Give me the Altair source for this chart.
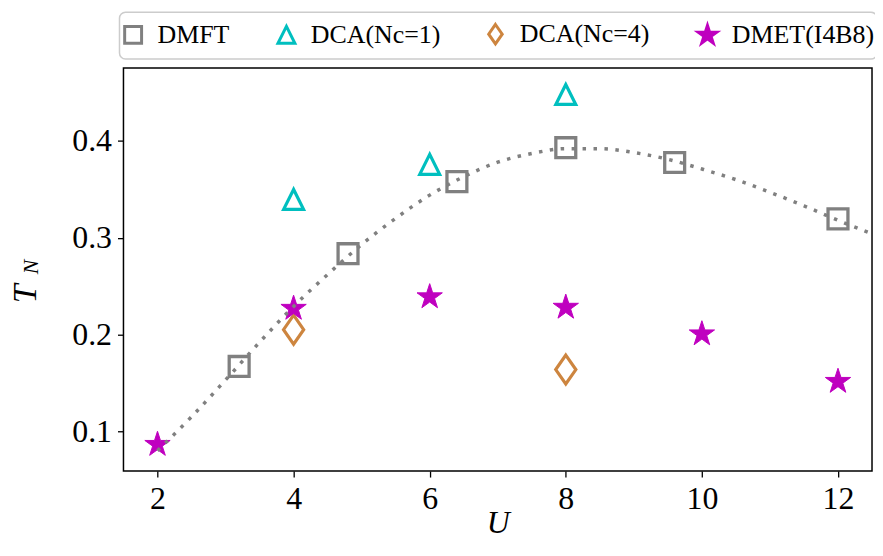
import math
import altair as alt
import pandas as pd

# ---------------- data ----------------
series_names = ["DMFT", "DCA(Nc=1)", "DCA(Nc=4)", "DMET(I4B8)"]

dmft_u = [3.2, 4.8, 6.4, 8.0, 9.6, 12.0]
dmft_t = [0.167, 0.2835, 0.358, 0.393, 0.3777, 0.3195]

dca1_u = [4, 6, 8]
dca1_t = [0.3396, 0.3758, 0.448]

dca4_u = [4, 8]
dca4_t = [0.205, 0.1638]

dmet_u = [2, 4, 6, 8, 10, 12]
dmet_t = [0.0863, 0.2269, 0.2388, 0.228, 0.2005, 0.1514]

fit_u = [2.0, 2.5, 3.0, 3.5, 4.0, 4.5, 5.0, 5.5, 6.0, 6.5, 7.0, 7.5,
         8.0, 8.5, 9.0, 9.5, 10.0, 10.5, 11.0, 11.5, 12.0, 12.5]
fit_t = [0.080, 0.115, 0.153, 0.192, 0.229, 0.262, 0.293, 0.320, 0.344, 0.363,
         0.378, 0.387, 0.392, 0.392, 0.388, 0.381, 0.371, 0.360, 0.347, 0.333,
         0.318, 0.304]

x_ticks = [2, 4, 6, 8, 10, 12]
y_ticks = [0.1, 0.2, 0.3, 0.4]

# ---------------- tables ----------------
rows = []
for name, us, ts in zip(series_names, [dmft_u, dca1_u, dca4_u, dmet_u],
                        [dmft_t, dca1_t, dca4_t, dmet_t]):
    for u, t in zip(us, ts):
        rows.append({"series": name, "U": u, "T": t})
df = pd.DataFrame(rows)
fit_df = pd.DataFrame({"U": fit_u, "T": fit_t})

# ---------------- styles ----------------
FONT = "Liberation Serif"
colors = ["#808080", "#00BFBF", "#CD853F", "#BF00BF"]
fills = ["transparent", "transparent", "transparent", "#BF00BF"]


def star_path(r_out=1.15, ratio=0.382):
    pts = []
    for k in range(10):
        r = r_out if k % 2 == 0 else r_out * ratio
        a = -math.pi / 2 + k * math.pi / 5
        pts.append(f"{r * math.cos(a):.3f},{r * math.sin(a):.3f}")
    return "M" + "L".join(pts) + "Z"


shapes = ["square", "M0,-1L-1,1L1,1Z", "M0,-1.15L0.8,0L0,1.15L-0.8,0Z", star_path()]
mark_sizes = [400, 400, 640, 540]
mark_strokes = [3.3, 3.2, 3.2, 1.0]

legend = alt.Legend(
    orient="none", legendX=-3.3, legendY=-47, direction="horizontal", columns=4,
    title=None, labelFont=FONT, labelFontSize=26, labelColor="black",
    symbolSize=289, symbolStrokeWidth=3, labelOffset=11.5, columnPadding=42,
    padding=0, labelLimit=0,
)

x_enc = alt.X("U:Q", scale=alt.Scale(domain=[1.5, 12.5], nice=False, zero=False),
              axis=alt.Axis(values=x_ticks, title="U", format="d", labelPadding=7,
                            titlePadding=-7))
y_enc = alt.Y("T:Q", scale=alt.Scale(domain=[0.0589, 0.4754], nice=False, zero=False),
              axis=alt.Axis(values=y_ticks, title=None, format=".1f", labelPadding=6))
shape_enc = alt.Shape("series:N", scale=alt.Scale(domain=series_names, range=shapes), legend=legend)
stroke_enc = alt.Stroke("series:N", scale=alt.Scale(domain=series_names, range=colors), legend=legend)
fill_enc = alt.Fill("series:N", scale=alt.Scale(domain=series_names, range=fills), legend=legend)

base = alt.Chart(df)
point_layers = []
for name, sz, sw in zip(series_names, mark_sizes, mark_strokes):
    point_layers.append(
        base.transform_filter(alt.datum.series == name)
        .mark_point(size=sz, strokeWidth=sw, opacity=1, fillOpacity=1, strokeOpacity=1)
        .encode(x=x_enc, y=y_enc, shape=shape_enc, stroke=stroke_enc, fill=fill_enc)
    )

line = alt.Chart(fit_df).mark_line(
    color="#808080", strokeWidth=3.5, strokeDash=[3.5, 7.5], interpolate="monotone", clip=True
).encode(x="U:Q", y="T:Q")

legend_box = alt.Chart(alt.Data(values=[{}])).mark_rect(
    fill="white", stroke="#cccccc", strokeWidth=1.5, cornerRadius=6
).encode(x=alt.value(-4), x2=alt.value(757), y=alt.value(-56), y2=alt.value(-9))

title_T = alt.Chart(alt.Data(values=[{}])).mark_text(
    text="T", font=FONT, fontSize=34, fontStyle="italic", angle=270,
    align="center", baseline="middle", color="black"
).encode(x=alt.value(-97.5), y=alt.value(227))
title_N = alt.Chart(alt.Data(values=[{}])).mark_text(
    text="N", font=FONT, fontSize=22, fontStyle="italic", angle=270,
    align="center", baseline="middle", color="black"
).encode(x=alt.value(-93), y=alt.value(200))

chart = alt.layer(legend_box, *point_layers, line, title_T, title_N).properties(
    width=752, height=405,
    padding={"left": 116, "top": 59, "right": 3, "bottom": 66},
    autosize=alt.AutoSizeParams(type="none"),
).configure(
    font=FONT
).configure_view(
    stroke="black", strokeWidth=1.5
).configure_axis(
    labelFont=FONT, labelFontSize=32, labelColor="black",
    tickColor="black", tickSize=6, tickWidth=1.3, domain=False, grid=False,
    titleFont=FONT, titleFontSize=32, titleFontStyle="italic", titleFontWeight="normal",
    titleColor="black",
).configure_legend(
    labelFont=FONT, labelFontSize=26, labelColor="black"
)

chart.save("out.html", embed_options={"renderer": "svg", "actions": False})
